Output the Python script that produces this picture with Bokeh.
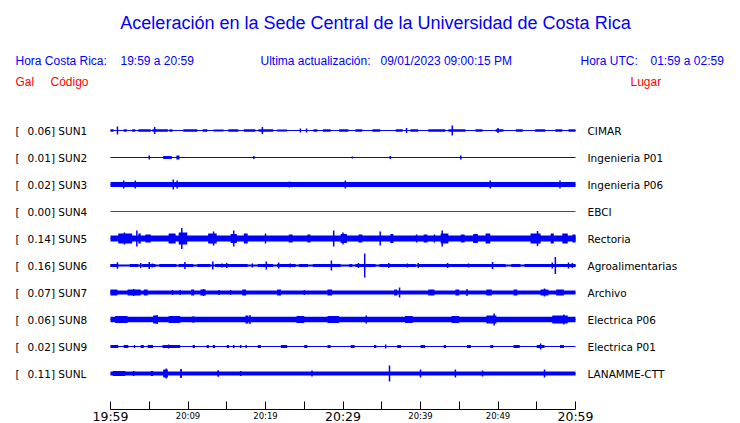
from bokeh.plotting import figure
from bokeh.models import Range1d, LinearAxis, FixedTicker
from bokeh.layouts import column
from bokeh.embed import file_html
from bokeh.resources import INLINE
from bokeh.core.properties import value

# ---------------- data ----------------
title = "Aceleración en la Sede Central de la Universidad de Costa Rica"
stations = ["SUN1", "SUN2", "SUN3", "SUN4", "SUN5", "SUN6", "SUN7", "SUN8", "SUN9", "SUNL"]
peak_gal = ["0.06", "0.01", "0.02", "0.00", "0.14", "0.16", "0.07", "0.06", "0.02", "0.11"]
places = ["CIMAR", "Ingenieria P01", "Ingenieria P06", "EBCI", "Rectoria",
          "Agroalimentarias", "Archivo", "Electrica P06", "Electrica P01", "LANAMME-CTT"]

# time axis (minutes after 19:59)
tick_minutes = [0, 5, 10, 15, 20, 25, 30, 35, 40, 45, 50, 55, 60]
label_minutes = [0, 10, 20, 30, 40, 50, 60]
label_texts = ["19:59", "20:09", "20:19", "20:29", "20:39", "20:49", "20:59"]
label_major = [True, False, False, True, False, False, True]

# trace envelopes (amplitude counts, 27 counts = one row)
base_amp = [0.5, 0.5, 2.5, 0.5, 3.0, 1.0, 2.0, 2.7, 0.5, 2.0]

sun1_blocks = [(0.0, 0.4, 1.2), (1.7, 2.1, 1.2), (2.8, 3.2, 1.2), (3.6, 5.2, 1.2), (5.4, 7.4, 1.2),
               (7.6, 8.0, 1.2), (9.4, 11.2, 1.2), (11.9, 12.5, 1.2), (13.3, 14.6, 1.0), (15.2, 16.5, 1.2),
               (17.2, 18.7, 1.2), (19.1, 21.0, 1.2), (21.5, 22.8, 1.0), (26.2, 26.7, 1.2), (27.4, 28.4, 1.2),
               (29.5, 30.7, 1.2), (31.6, 32.5, 1.2), (33.8, 34.8, 1.2), (36.8, 37.7, 1.2), (38.7, 39.7, 1.2),
               (41.0, 43.2, 1.2), (43.6, 45.8, 1.2), (47.1, 48.0, 1.2), (49.7, 50.7, 1.2), (52.3, 53.2, 1.2),
               (54.8, 56.1, 1.2), (57.4, 58.3, 1.2), (59.1, 60.0, 1.2)]
sun1_spikes = [(0.9, 4), (5.7, 3.5), (19.6, 3.5), (44.1, 5), (24.5, 2), (25.3, 2), (38.2, 2.5), (50.0, 2.5)]

sun2_blocks = [(6.8, 7.9, 1.5), (8.5, 8.9, 2)]
sun2_spikes = [(5.0, 2), (18.5, 1.5), (31.2, 1), (36.1, 1.5), (45.2, 2)]

sun3_blocks = []
sun3_spikes = [(1.7, 4), (3.2, 4), (8.1, 5), (8.6, 4), (23.1, 3), (30.3, 4), (49.0, 4), (58.0, 4)]

sun4_blocks = []
sun4_spikes = []

sun5_blocks = [(1.0, 2.8, 5), (3.6, 3.9, 5), (4.5, 5.2, 4), (7.5, 8.4, 5), (8.8, 9.9, 6), (12.6, 13.7, 5),
               (15.5, 16.3, 4.5), (17.2, 17.7, 5), (23.0, 23.5, 4), (25.4, 25.8, 4), (29.7, 30.5, 4.5),
               (32.0, 32.5, 4), (36.1, 36.5, 4.5), (39.4, 39.6, 4), (40.4, 40.9, 4), (41.7, 41.9, 4),
               (42.6, 43.6, 5), (45.2, 45.7, 4), (46.8, 47.4, 4.5), (48.4, 49.0, 5), (54.2, 55.5, 5),
               (56.8, 57.2, 5), (58.3, 59.0, 5), (59.6, 60.0, 4)]
sun5_spikes = [(3.4, 8), (9.2, 10.5), (13.3, 7), (15.9, 8), (28.8, 8), (30.0, 6), (34.8, 7), (42.8, 8),
               (55.1, 7.5), (1.8, 6), (20.0, 5)]

sun6_blocks = [(0.0, 0.9, 1.5), (2.5, 3.6, 1.5), (4.1, 5.8, 1.5), (6.3, 8.5, 1.5), (8.8, 10.7, 1.5),
               (11.2, 12.9, 1.5), (13.5, 17.7, 1.5), (19.0, 21.0, 1.5), (21.5, 23.9, 1.5), (24.3, 25.5, 1.5),
               (26.1, 29.7, 1.5), (30.8, 31.2, 1.5), (31.6, 34.2, 1.5), (34.7, 39.4, 1.5), (39.7, 51.0, 1.5),
               (51.7, 52.9, 1.5), (53.4, 60.0, 1.5)]
sun6_spikes = [(0.9, 3.3), (3.9, 2.5), (5.0, 3.5), (5.4, 2), (9.6, 3.5), (13.2, 4), (14.4, 2), (15.0, 2.5),
               (18.3, 2), (20.1, 4), (21.7, 3), (23.2, 2), (28.5, 5), (32.8, 12), (32.0, 2.5), (35.9, 2.5),
               (38.3, 2), (39.7, 2.5), (43.5, 2.5), (46.2, 2), (49.3, 3.5), (57.4, 8.5), (57.0, 3),
               (59.1, 3), (59.6, 2.5)]

sun7_blocks = [(0.0, 0.9, 3), (2.2, 3.9, 3), (4.3, 4.8, 3), (10.4, 10.8, 3), (11.6, 12.3, 3), (17.0, 17.5, 3),
               (21.5, 22.0, 3), (28.0, 28.6, 3), (36.6, 37.0, 3), (41.0, 41.8, 3), (44.5, 45.0, 3),
               (48.5, 49.2, 3), (52.0, 52.5, 3), (55.5, 56.5, 3), (57.5, 58.5, 3)]
sun7_spikes = [(37.3, 5), (3.0, 3.5), (12.0, 3.5), (46.0, 3.5), (56.0, 4), (8.0, 2.5), (9.0, 2.5),
               (14.0, 2.5), (15.5, 2.5), (25.0, 2.5)]

sun8_blocks = [(0.6, 2.2, 3.5), (5.5, 6.1, 4), (7.5, 9.0, 3.5), (10.5, 10.9, 3), (17.4, 17.8, 4),
               (24.0, 25.0, 3.5), (28.0, 29.5, 3.5), (38.0, 39.0, 3.5), (44.0, 45.0, 3.5), (48.5, 49.8, 4),
               (57.0, 59.0, 4)]
sun8_spikes = [(49.5, 6), (18.0, 4.5), (6.0, 4.5), (33.0, 4), (58.5, 5)]

sun9_blocks = [(0.0, 1.0, 1.5), (1.7, 2.3, 1.5), (3.0, 3.2, 1.5), (3.9, 4.3, 1.5), (4.8, 5.5, 1.5),
               (6.7, 9.0, 1.5), (10.6, 10.9, 1.5), (12.4, 12.7, 1.5), (13.2, 13.5, 1.5), (15.0, 15.3, 1.5),
               (15.8, 16.0, 1.5), (16.7, 16.9, 1.5), (17.4, 17.6, 1.5), (19.0, 19.4, 1.5), (22.0, 22.8, 1.5),
               (25.0, 25.4, 1.5), (28.0, 28.4, 1.5), (31.0, 31.5, 1.5), (34.0, 34.3, 1.5), (37.0, 37.5, 1.5),
               (40.0, 40.6, 1.5), (43.0, 43.3, 1.5), (46.0, 46.5, 1.5), (49.0, 49.4, 1.5), (52.0, 52.8, 1.5),
               (55.0, 56.0, 1.5), (58.0, 58.5, 1.5)]
sun9_spikes = [(55.5, 3), (35.5, 2), (7.5, 2)]

sunl_blocks = [(0.3, 1.9, 2.5), (2.9, 3.1, 2.5), (5.2, 5.5, 2.5), (6.8, 7.4, 4), (9.0, 9.2, 4),
               (13.8, 14.0, 3), (16.7, 16.9, 2.5)]
sunl_spikes = [(7.2, 5), (9.1, 4.5), (36.0, 8), (40.0, 4), (44.5, 4), (56.0, 4), (13.9, 3), (26.0, 3),
               (48.0, 3)]

all_blocks = [sun1_blocks, sun2_blocks, sun3_blocks, sun4_blocks, sun5_blocks,
              sun6_blocks, sun7_blocks, sun8_blocks, sun9_blocks, sunl_blocks]
all_spikes = [sun1_spikes, sun2_spikes, sun3_spikes, sun4_spikes, sun5_spikes,
              sun6_spikes, sun7_spikes, sun8_spikes, sun9_spikes, sunl_spikes]
dead_channels = ["SUN4"]

# ---------------- layout ----------------
W = 740
TOP_H = 401          # main panel: page rows 0..401
AXIS_H = 8           # tick band: 401..409
LAB_H = 14           # tick-label band: 409..423
X0_PX, PX_PER_MIN = 110.0, 465.0 / 60.0
ROW0_PX, ROW_PX = 130.0, 27.0
COUNTS_PER_ROW = 27.0

def fx(px):
    return (px - X0_PX) / PX_PER_MIN

def fy(py):
    return (py - ROW0_PX) / ROW_PX

BLUE, RED, BLACK = "#0000ff", "#ff0000", "#000000"

xr = Range1d(fx(0), fx(W))

p = figure(width=W, height=TOP_H, output_backend="svg", toolbar_location=None,
           x_range=xr, y_range=Range1d(fy(TOP_H), fy(0)),
           x_axis_type=None, y_axis_type=None, min_border=0, outline_line_color=None)
p.xgrid.visible = False
p.ygrid.visible = False

# traces
for r, (st, base, blocks, spikes) in enumerate(zip(stations, base_amp, all_blocks, all_spikes)):
    col = RED if st in dead_channels else BLUE
    p.segment(x0=[0], x1=[60], y0=[r], y1=[r], line_color=col, line_width=1)
    if base > 0.6:
        h = base / COUNTS_PER_ROW
        p.quad(left=[0], right=[60], top=[r - h], bottom=[r + h], fill_color=col, line_color=None)
    if blocks:
        p.quad(left=[b[0] for b in blocks], right=[b[1] for b in blocks],
               top=[r - b[2] / COUNTS_PER_ROW for b in blocks],
               bottom=[r + b[2] / COUNTS_PER_ROW for b in blocks],
               fill_color=col, line_color=None)
    if spikes:
        p.segment(x0=[s[0] for s in spikes], x1=[s[0] for s in spikes],
                  y0=[r - s[1] / COUNTS_PER_ROW for s in spikes],
                  y1=[r + s[1] / COUNTS_PER_ROW for s in spikes],
                  line_color=col, line_width=1.5)

rows = list(range(len(stations)))
lab_font = value("DejaVu Sans")
p.text(x=[fx(15)] * len(rows), y=rows, text=["["] * len(rows), text_font=lab_font,
       text_font_size="10.5px", text_color=BLACK, text_align="left", text_baseline="middle")
p.text(x=[fx(27)] * len(rows), y=rows, text=[f"{g}] {s}" for g, s in zip(peak_gal, stations)],
       text_font=lab_font, text_font_size="10.5px", text_color=BLACK, text_align="left",
       text_baseline="middle")
p.text(x=[fx(587)] * len(rows), y=rows, text=places, text_font=lab_font,
       text_font_size="10.5px", text_color=BLACK, text_align="left", text_baseline="middle")

# header texts
hfont = value("Liberation Sans")
p.text(x=[fx(375)], y=[fy(22)], text=[title], text_font=hfont, text_font_size="18px",
       text_color=BLUE, text_align="center", text_baseline="middle")
p.text(x=[fx(15), fx(120), fx(260), fx(380), fx(580), fx(650)], y=[fy(60.5)] * 6,
       text=["Hora Costa Rica:", "19:59 a 20:59", "Ultima actualización:", "09/01/2023 09:00:15 PM",
             "Hora UTC:", "01:59 a 02:59"],
       text_font=hfont, text_font_size="12px", text_color=BLUE, text_align="left",
       text_baseline="middle")
p.text(x=[fx(15), fx(50), fx(630)], y=[fy(81)] * 3, text=["Gal", "Código", "Lugar"],
       text_font=hfont, text_font_size="12px", text_color=RED, text_align="left",
       text_baseline="middle")

# ---- time axis strip ----
q = figure(width=W, height=AXIS_H + LAB_H, output_backend="svg", toolbar_location=None,
           x_range=xr, y_range=Range1d(0, 1),
           x_axis_type=None, y_axis_type=None, min_border=0, outline_line_color=None)
q.min_border_top = AXIS_H
q.xgrid.visible = False
q.ygrid.visible = False
ax = LinearAxis(ticker=FixedTicker(ticks=tick_minutes), bounds=(0, 60),
                major_tick_in=0, major_tick_out=AXIS_H, minor_tick_line_color=None,
                major_label_overrides={m: "" for m in tick_minutes}, major_label_standoff=0,
                major_label_text_font_size="0px",
                axis_line_color=BLACK, major_tick_line_color=BLACK)
q.add_layout(ax, "above")

def fl(py):  # page row -> label strip coordinate
    return (TOP_H + AXIS_H + LAB_H - py) / LAB_H

big = [i for i, b in enumerate(label_major) if b]
small = [i for i, b in enumerate(label_major) if not b]
q.text(x=[label_minutes[i] for i in big], y=[fl(416)] * len(big), text=[label_texts[i] for i in big],
       text_font=lab_font, text_font_size="12.5px", text_color=BLACK, text_align="center",
       text_baseline="middle")
q.text(x=[label_minutes[i] for i in small], y=[fl(415)] * len(small),
       text=[label_texts[i] for i in small], text_font=lab_font, text_font_size="8.5px",
       text_color=BLACK, text_align="center", text_baseline="middle")

layout = column(p, q, spacing=0)
open("out.html", "w").write(file_html(layout, INLINE))
